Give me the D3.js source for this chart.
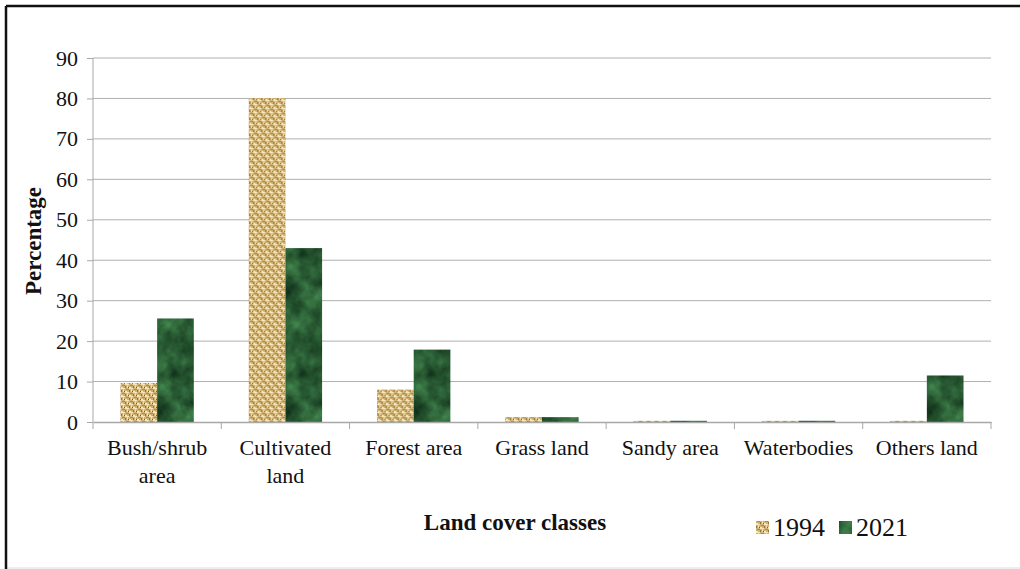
<!DOCTYPE html>
<html>
<head>
<meta charset="utf-8">
<script src="https://cdn.jsdelivr.net/npm/d3@7"></script>
<style>
  body { margin: 0; background: #fff; }
  svg { display: block; font-family: "Liberation Serif", "Times New Roman", serif; }
</style>
</head>
<body>
<div id="chart"></div>
<script>
// data
const categories = ["Bush/shrub area", "Cultivated land", "Forest area", "Grass land", "Sandy area", "Waterbodies", "Others land"];
const catLines = [["Bush/shrub", "area"], ["Cultivated", "land"], ["Forest area"], ["Grass land"], ["Sandy area"], ["Waterbodies"], ["Others land"]];
const years = ["1994", "2021"];
const values1994 = [9.6, 80.1, 8.0, 1.2, 0.3, 0.3, 0.3];
const values2021 = [25.6, 43.0, 17.9, 1.2, 0.3, 0.3, 11.5];
const yTicks = [0, 10, 20, 30, 40, 50, 60, 70, 80, 90];

var width = 1020, height = 569;
var padding = { top: 58, right: 29, bottom: 147, left: 93 };

const svg = d3.select("#chart").append("svg")
    .attr("width", width)
    .attr("height", height);

// textures
const defs = svg.append("defs");

// burlap weave for 1994
const burlap = defs.append("pattern")
    .attr("id", "burlap")
    .attr("patternUnits", "userSpaceOnUse")
    .attr("width", 8).attr("height", 8);
burlap.append("rect").attr("width", 8).attr("height", 8).attr("fill", "#d1b275");
[[0,0,4,1,"#f5e6bb"],[4,4,4,1,"#f5e6bb"],[0,2,1,2,"#957436"],[4,6,1,2,"#957436"],
 [2,1,1,3,"#efdcaa"],[6,5,1,3,"#efdcaa"],[5,1,3,1,"#ad8d48"],[1,5,3,1,"#ad8d48"],
 [3,3,1,1,"#785c2a"],[7,7,1,1,"#785c2a"],[0,7,2,1,"#f7ebc6"],[4,3,2,1,"#f7ebc6"]]
    .forEach(function(r){
        burlap.append("rect").attr("x", r[0]).attr("y", r[1])
            .attr("width", r[2]).attr("height", r[3]).attr("fill", r[4]);
    });

// green marble for 2021 (noise mapped to greens)
const noise = defs.append("filter")
    .attr("id", "marbleNoise")
    .attr("color-interpolation-filters", "sRGB")
    .attr("x", 0).attr("y", 0).attr("width", 1).attr("height", 1);
noise.append("feTurbulence")
    .attr("type", "fractalNoise")
    .attr("baseFrequency", "0.05 0.045")
    .attr("numOctaves", 4)
    .attr("stitchTiles", "stitch")
    .attr("seed", 7);
noise.append("feColorMatrix")
    .attr("type", "matrix")
    .attr("values", "0.32 0 0 0 0.0  0.55 0 0 0 0.08  0.34 0 0 0 0.03  0 0 0 0 1");

const marble = defs.append("pattern")
    .attr("id", "marble")
    .attr("patternUnits", "userSpaceOnUse")
    .attr("width", 120).attr("height", 120);
marble.append("rect").attr("width", 120).attr("height", 120)
    .attr("filter", "url(#marbleNoise)");

const fills = { "1994": "url(#burlap)", "2021": "url(#marble)" };

// outer frame
svg.append("rect")
    .attr("x", 6).attr("y", 6)
    .attr("width", width + 10).attr("height", 562)
    .attr("fill", "none").attr("stroke", "#dcdcdc").attr("stroke-width", 1);
svg.append("line").attr("x1", 6).attr("x2", width).attr("y1", 6).attr("y2", 6)
    .attr("stroke", "#111").attr("stroke-width", 2.5);
svg.append("line").attr("x1", 6).attr("x2", 6).attr("y1", 6).attr("y2", 569)
    .attr("stroke", "#111").attr("stroke-width", 2.5);

var x0 = d3.scaleBand()
    .domain(categories)
    .range([padding.left, width - padding.right])
    .paddingInner(0).paddingOuter(0);

var x1 = d3.scaleBand()
    .domain(years)
    .range([0, x0.bandwidth()])
    .paddingOuter(0.75).paddingInner(0);

var yScale = d3.scaleLinear()
    .domain([0, 90])
    .range([height - padding.bottom, padding.top]);

// gridlines
svg.append("g")
    .selectAll("line")
    .data(yTicks.filter(function(d){ return d > 0; }))
    .enter().append("line")
    .attr("x1", padding.left).attr("x2", width - padding.right)
    .attr("y1", function(d){ return yScale(d); })
    .attr("y2", function(d){ return yScale(d); })
    .attr("stroke", "#b0b0b0").attr("stroke-width", 1);

// y axis
var yAxis = d3.axisLeft(yScale).tickValues(yTicks).tickSize(6).tickPadding(9);
var gy = svg.append("g")
    .attr("transform", "translate(" + padding.left + ",0)")
    .call(yAxis);
gy.select(".domain").attr("stroke", "#a8a8a8").attr("d", "M0," + yScale(90) + "V" + yScale(0));
gy.selectAll(".tick line").attr("stroke", "#a8a8a8");
gy.selectAll("text").attr("font-size", 22).attr("fill", "#111").attr("font-family", "Liberation Serif");

// bars
var data = categories.map(function(c, i){
    return { cat: c, vals: [{ year: "1994", v: values1994[i] }, { year: "2021", v: values2021[i] }] };
});
var groups = svg.append("g").selectAll("g")
    .data(data).enter().append("g")
    .attr("transform", function(d){ return "translate(" + x0(d.cat) + ",0)"; });
groups.selectAll("rect")
    .data(function(d){ return d.vals; })
    .enter().append("rect")
    .attr("x", function(d){ return x1(d.year); })
    .attr("width", x1.bandwidth())
    .attr("y", function(d){ return yScale(d.v); })
    .attr("height", function(d){ return yScale(0) - yScale(d.v); })
    .attr("fill", function(d){ return fills[d.year]; });

// x axis
var xAxis = d3.axisBottom(x0).tickSize(0).tickFormat("");
var gx = svg.append("g")
    .attr("transform", "translate(0," + yScale(0) + ")")
    .call(xAxis);
gx.select(".domain").attr("stroke", "#a8a8a8").attr("stroke-width", 1.5);
var bounds = x0.domain().map(function(c){ return x0(c); }).concat([width - padding.right]);
gx.selectAll(".sep").data(bounds).enter().append("line")
    .attr("class", "sep")
    .attr("x1", function(d){ return d; }).attr("x2", function(d){ return d; })
    .attr("y1", 0).attr("y2", 7)
    .attr("stroke", "#a8a8a8");

var labels = svg.append("g").selectAll("text")
    .data(categories).enter().append("text")
    .attr("x", function(d){ return x0(d) + x0.bandwidth() / 2; })
    .attr("y", yScale(0) + 33)
    .attr("text-anchor", "middle")
    .attr("font-size", 22)
    .attr("fill", "#111");
labels.each(function(d, i){
    var t = d3.select(this);
    catLines[i].forEach(function(line, j){
        t.append("tspan").attr("x", x0(d) + x0.bandwidth() / 2).attr("dy", j === 0 ? 0 : 28).text(line);
    });
});

// axis titles
svg.append("text")
    .attr("transform", "translate(41," + 241 + ") rotate(-90)")
    .attr("text-anchor", "middle")
    .attr("font-size", 23).attr("font-weight", "bold").attr("fill", "#111")
    .text("Percentage");

svg.append("text")
    .attr("x", 515).attr("y", 530)
    .attr("text-anchor", "middle")
    .attr("font-size", 23).attr("font-weight", "bold").attr("fill", "#111")
    .text("Land cover classes");

// legend
var legendX = [756, 839];
years.forEach(function(yr, i){
    svg.append("rect")
        .attr("x", legendX[i]).attr("y", 521)
        .attr("width", 13).attr("height", 13)
        .attr("fill", fills[yr]);
    svg.append("text")
        .attr("x", legendX[i] + 17).attr("y", 536)
        .attr("font-size", 26).attr("fill", "#111")
        .text(yr);
});
</script>
</body>
</html>
